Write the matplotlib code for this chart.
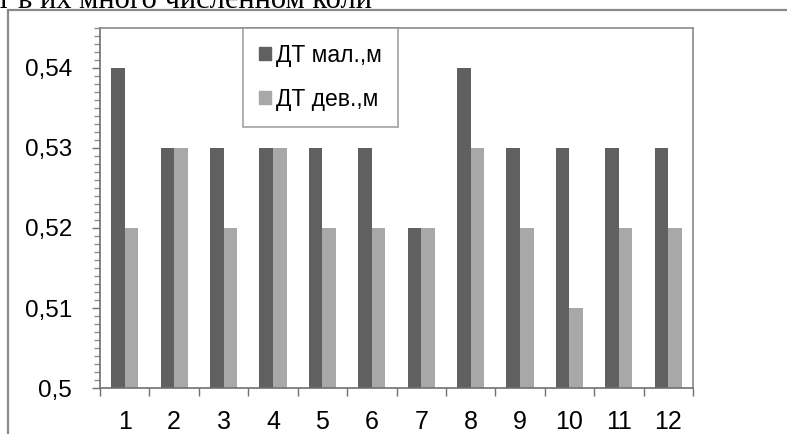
import matplotlib
matplotlib.use("Agg")
import matplotlib.pyplot as plt
from matplotlib.patches import Rectangle, Patch
from matplotlib.ticker import FixedLocator, MultipleLocator, FuncFormatter

categories = [1, 2, 3, 4, 5, 6, 7, 8, 9, 10, 11, 12]
boys = [0.54, 0.53, 0.53, 0.53, 0.53, 0.53, 0.52, 0.54, 0.53, 0.53, 0.53, 0.53]
girls = [0.52, 0.53, 0.52, 0.53, 0.52, 0.52, 0.52, 0.53, 0.52, 0.51, 0.52, 0.52]
series_labels = ["ДТ мал.,м", "ДТ дев.,м"]
y_ticks = [0.50, 0.51, 0.52, 0.53, 0.54]
y_tick_labels = ["0,5", "0,51", "0,52", "0,53", "0,54"]
caption = "т в их много численном коли"

dark = "#606060"
light = "#a8a8a8"
frame = "#8a8a8a"

plt.rcParams["font.family"] = ["Liberation Sans", "DejaVu Sans"]

W, H = 787, 434
fig = plt.figure(figsize=(W / 100, H / 100), dpi=100)
fig.patch.set_facecolor("white")

# caption line from the surrounding text, running off the top edge
fig.text(-3 / W, 1 - 8 / H, caption, family=["Liberation Serif", "DejaVu Serif"],
         fontsize=22, color="black", ha="left", va="baseline")

# outer chart-area border
fig.add_artist(Rectangle((8 / W, -0.05), 1.2, 1 - 10 / H + 0.05,
                         transform=fig.transFigure, fill=False,
                         edgecolor=frame, linewidth=1.6))

ax = fig.add_axes([100 / W, (H - 388) / H, 593 / W, 360 / H])
x = range(len(categories))
w = 0.275
ax.bar([i + 1 - w / 2 for i in x], boys, width=w, color=dark, label=series_labels[0])
ax.bar([i + 1 + w / 2 for i in x], girls, width=w, color=light, label=series_labels[1])

ax.set_xlim(0.5, len(categories) + 0.5)
ax.set_ylim(0.5, 0.545)

ax.yaxis.set_major_locator(FixedLocator(y_ticks))
ax.set_yticklabels(y_tick_labels)
ax.yaxis.set_minor_locator(MultipleLocator(0.001))
ax.tick_params(axis="y", which="major", direction="out", length=6, width=1,
               color="#707070", labelsize=17.5, pad=14)
ax.tick_params(axis="y", which="minor", direction="out", length=4, width=1,
               color="#909090")

# category boundaries get tick marks, labels sit at the centres
ax.xaxis.set_major_locator(FixedLocator([i + 0.5 for i in range(len(categories) + 1)]))
ax.xaxis.set_major_formatter(FuncFormatter(lambda v, p: ""))
ax.xaxis.set_minor_locator(FixedLocator([c for c in categories]))
ax.xaxis.set_minor_formatter(FuncFormatter(lambda v, p: str(int(round(v)))))
ax.tick_params(axis="x", which="major", direction="out", length=6, width=1, color="#707070")
ax.tick_params(axis="x", which="minor", length=0, labelsize=18, pad=16)

for side in ("left", "bottom"):
    ax.spines[side].set_color("#707070")
    ax.spines[side].set_linewidth(1.2)
for side in ("top", "right"):
    ax.spines[side].set_color(frame)
    ax.spines[side].set_linewidth(1.2)

leg = ax.legend(handles=[Patch(color=dark), Patch(color=light)], labels=series_labels,
                loc="upper left", bbox_to_anchor=((243 - 100) / 593, 1.0),
                borderaxespad=0, frameon=True, fancybox=False, fontsize=16.5,
                handlelength=0.5, handleheight=0.5, handletextpad=0.25,
                labelspacing=0.9, borderpad=0.7)
leg.get_frame().set_edgecolor(frame)
leg.get_frame().set_linewidth(1.2)

fig.savefig("out.png", dpi=100)
